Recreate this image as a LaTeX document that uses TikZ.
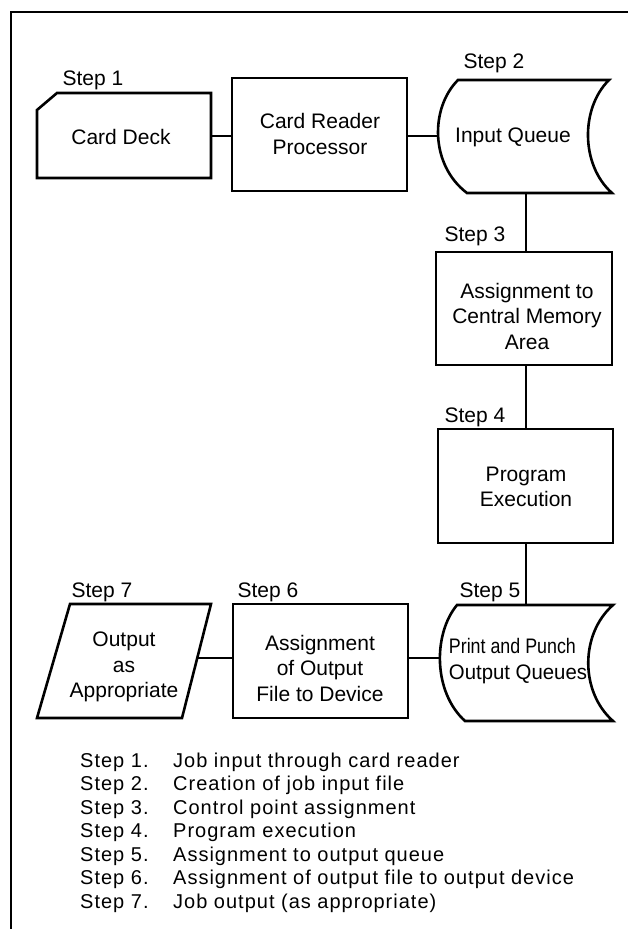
\documentclass[tikz,border=0pt]{standalone}
\usepackage{fontspec}
\setmainfont{Liberation Sans}
\begin{document}
\begin{tikzpicture}[x=1pt,y=-1pt,
  lw/.style={line width=2.6pt},
  box/.style={draw,lw,inner sep=0pt},
  txt/.style={align=center,inner sep=0pt,font=\fontsize{21}{25.5}\selectfont},
  steplbl/.style={anchor=base,inner sep=0pt,font=\fontsize{21}{25}\selectfont},
  listline/.style={anchor=base west,inner sep=0pt,font=\fontsize{20}{23.5}\selectfont\addfontfeature{LetterSpace=5}}]
\useasboundingbox (0,0) rectangle (628,929);
% frame
\draw[lw] (11,929) -- (11,12) -- (628,12);

% Step 1: card deck
\draw[lw] (57,93) -- (211,93) -- (211,178) -- (37,178) -- (37,110) -- cycle;
\node[txt] (cdtext) at (121,137) {Card Deck};
\coordinate (cdE) at (211,136);
\node[steplbl] (st1) at (93,85) {Step 1};

% card reader processor
\node[box,minimum width=175pt,minimum height=113pt] (cr) at (319.5,134.5) {};
\node[txt] (crtext) at (320,134) {Card Reader\\Processor};
\draw[lw] (cdE) -- (cdE -| cr.west);

% Step 2: input queue
\draw[lw] (458,80) -- (609,80) .. controls (580.5,108) and (580.5,165) .. (612,193)
  -- (467,193) .. controls (430,165) and (430,108) .. (458,80) -- cycle;
\coordinate (iqW) at (439,136);
\coordinate (iqS) at (526,193);
\node[txt] (iqtext) at (513,137) {Input Queue};
\node[steplbl] (st2) at (494,68.5) {Step 2};
\draw[lw] (iqW -| cr.east) -- (iqW);

% Step 3
\node[box,minimum width=176pt,minimum height=113pt] (s3) at (524,308.5) {};
\node[txt] (s3text) at (527,316) {Assignment to\\Central Memory\\Area};
\node[steplbl] (st3) at (475,241) {Step 3};
\draw[lw] (iqS) -- (iqS |- s3.north);

% Step 4
\node[box,minimum width=175pt,minimum height=114pt] (s4) at (525.5,486) {};
\node[txt] (s4text) at (526,487) {Program\\Execution};
\node[steplbl] (st4) at (475,422) {Step 4};
\draw[lw] (iqS |- s3.south) -- (iqS |- s4.north);

% Step 5: print and punch output queues
\draw[lw] (457,605) -- (613,605) .. controls (580,634) and (580,692) .. (613,721)
  -- (465,721) .. controls (433,692) and (433,634) .. (457,605) -- cycle;
\coordinate (s5N) at (526,605);
\coordinate (s5W) at (440,658);
\node[txt,align=left] (s5text) at (518,661) {{\addfontfeature{FakeStretch=0.85}Print and Punch}\\{\addfontfeature{FakeStretch=0.97}Output Queues}};
\node[steplbl] (st5) at (490,597) {Step 5};
\draw[lw] (s5N |- s4.south) -- (s5N);

% Step 6
\node[box,minimum width=175pt,minimum height=114pt] (s6) at (320.5,661) {};
\node[txt] (s6text) at (320,668) {Assignment\\of Output\\File to Device};
\node[steplbl] (st6) at (268,597) {Step 6};
\draw[lw] (s5W -| s6.east) -- (s5W);

% Step 7: output parallelogram
\draw[lw] (70,604) -- (211,604) -- (182,718) -- (37,718) -- cycle;
\coordinate (s7E) at (197,658);
\node[txt] (s7text) at (124,667) {Output\\as\\Appropriate};
\node[steplbl] (st7) at (102,597) {Step 7};
\draw[lw] (s7E) -- (s7E -| s6.west);

% legend
\node[listline] (l1) at (80,767) {\makebox[93pt][l]{Step 1.}Job input through card reader};
\node[listline] (l2) at (80,790.5) {\makebox[93pt][l]{Step 2.}Creation of job input file};
\node[listline] (l3) at (80,814) {\makebox[93pt][l]{Step 3.}Control point assignment};
\node[listline] (l4) at (80,837.5) {\makebox[93pt][l]{Step 4.}Program execution};
\node[listline] (l5) at (80,861) {\makebox[93pt][l]{Step 5.}Assignment to output queue};
\node[listline] (l6) at (80,884.5) {\makebox[93pt][l]{Step 6.}Assignment of output file to output device};
\node[listline] (l7) at (80,908) {\makebox[93pt][l]{Step 7.}Job output (as appropriate)};
\end{tikzpicture}
\end{document}
